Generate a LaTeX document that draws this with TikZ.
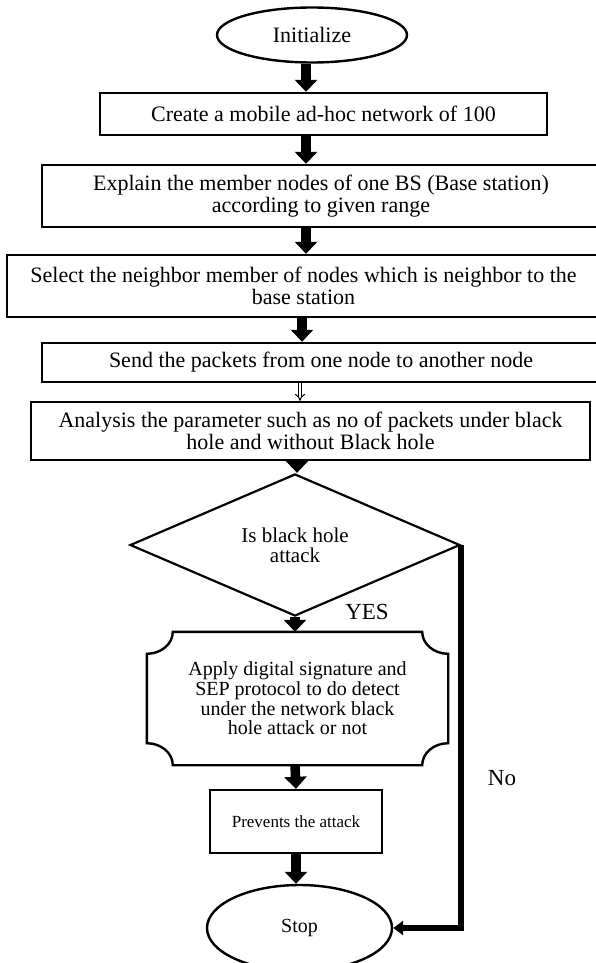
\documentclass[tikz,border=0pt]{standalone}
\usepackage{fontspec}
\setmainfont{Liberation Serif}
\usetikzlibrary{arrows.meta, shapes.geometric}

\begin{document}
\begin{tikzpicture}[x=1pt, y=-1pt,
    stepbox/.style={draw, line width=2.4pt, inner sep=0pt, align=center, font=\fontsize{22}{22}\selectfont},
    term/.style={draw, ellipse, line width=2.4pt, inner sep=0pt, font=\fontsize{22}{22}\selectfont},
    choice/.style={draw, diamond, line width=2.2pt, inner sep=0pt, align=center, font=\fontsize{21}{20}\selectfont},
    flow/.style={line width=9.5pt, -{Triangle[width=22pt, length=12pt]}},
    thinflow/.style={double, double distance=2.5pt, line width=1pt, -{Implies}},
    nobranch/.style={line width=6pt, line join=miter, -{Triangle[width=14pt, length=10pt]}},
    tag/.style={font=\fontsize{23}{23}\selectfont}]

    % page frame
    \useasboundingbox (0,0) rectangle (596,963);
    \clip (0,0) rectangle (596,963);

    % Start and steps
    \node[term, minimum width=190pt, minimum height=55pt] (init) at (312,35) {Initialize};
    \node[stepbox, minimum width=447pt, minimum height=42pt] (create) at (323.5,114) {Create a mobile ad-hoc network of 100};
    \node[stepbox, minimum width=558pt, minimum height=62pt] (explain) at (321,196) {Explain the member nodes of one BS (Base station)\\according to given range};
    \node[stepbox, minimum width=593pt, minimum height=62pt] (select) at (303.5,286) {Select the neighbor member of nodes which is neighbor to the\\base station};
    \node[stepbox, minimum width=558pt, minimum height=39pt] (send) at (321,362.5) {Send the packets from one node to another node};
    \node[stepbox, minimum width=559pt, minimum height=58pt] (analysis) at (310.5,431) {Analysis the parameter such as no of packets under black\\hole and without Black hole};

    % Decision
    \node[choice, minimum width=330pt, minimum height=110pt] (attack) at (295,545) {Is black hole\\attack};
    \node[tag] (yes) at (367,612) {YES};
    \node[tag] (no) at (502,778) {No};

    % Detection step with concave corners
    \node[inner sep=0pt, minimum width=301pt, minimum height=133pt, align=center, font=\fontsize{20}{19.7}\selectfont] (apply) at (297.5,698.5) {Apply digital signature and\\SEP protocol to do detect\\under the network black\\hole attack or not};
    \draw[line width=2.4pt] ([xshift=26pt]apply.north west) -- ([xshift=-26pt]apply.north east)
        arc[start angle=180, end angle=270, x radius=26pt, y radius=22pt] -- ([yshift=22pt]apply.south east)
        arc[start angle=90, end angle=180, x radius=26pt, y radius=22pt] -- ([xshift=26pt]apply.south west)
        arc[start angle=0, end angle=90, x radius=26pt, y radius=22pt] -- ([yshift=-22pt]apply.north west)
        arc[start angle=270, end angle=360, x radius=26pt, y radius=22pt] -- cycle;

    \node[stepbox, minimum width=172pt, minimum height=63pt, font=\fontsize{17}{17}\selectfont] (prevent) at (296,821.5) {Prevents the attack};
    \node[term, minimum width=185pt, minimum height=86pt, font=\fontsize{20}{20}\selectfont] (stop) at (299.5,928) {Stop};

    % Arrows
    \draw[flow] ([xshift=-6pt]init.south) -- ([xshift=-17.5pt]create.north);
    \draw[flow] ([xshift=-17.5pt]create.south) -- ([xshift=-15pt]explain.north);
    \draw[flow] ([xshift=-15pt]explain.south) -- ([xshift=2.5pt]select.north);
    \draw[flow] ([xshift=-1.5pt]select.south) -- ([xshift=-19pt]send.north);
    \draw[thinflow] ([xshift=-21pt]send.south) -- ([xshift=-10.5pt]analysis.north);
    \draw[flow] ([xshift=-13.5pt]analysis.south) -- ([xshift=2pt]attack.north);
    \draw[flow] (attack.south) -- (attack.south |- apply.north);
    \draw[flow] ([xshift=-2.5pt]apply.south) -- (prevent.north);
    \draw[flow] (prevent.south) -- (prevent.south |- stop.north);
    \draw[nobranch] (attack.east) -- (attack.east |- stop.east) -- (stop.east);
\end{tikzpicture}
\end{document}
